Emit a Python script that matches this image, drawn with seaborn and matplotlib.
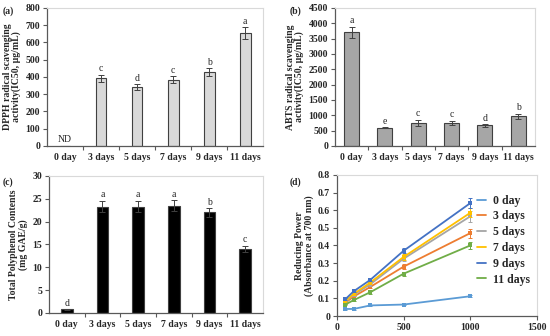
import numpy as np
import pandas as pd
import matplotlib
matplotlib.use("Agg")
import matplotlib.pyplot as plt
import seaborn as sns
from matplotlib.ticker import FixedLocator
from matplotlib.lines import Line2D

sns.set_style("white")
plt.rcParams['font.family'] = ['Liberation Serif', 'DejaVu Serif']
plt.rcParams['font.weight'] = 'bold'

days = ["0 day", "3 days", "5 days", "7 days", "9 days", "11 days"]

# (a) DPPH
dpph = [0, 393, 340, 383, 427, 655]
dpph_err = [0, 20, 17, 20, 22, 33]
dpph_let = ["", "c", "d", "c", "b", "a"]

# (b) ABTS
abts = [3700, 590, 760, 760, 670, 970]
abts_err = [180, 20, 100, 60, 40, 80]
abts_let = ["a", "e", "c", "c", "d", "b"]

# (c) total polyphenol
tpc = [0.8, 23.3, 23.3, 23.5, 22.0, 14.0]
tpc_err = [0.1, 1.3, 1.3, 1.2, 1.0, 0.7]
tpc_let = ["d", "a", "a", "a", "b", "c"]

# (d) reducing power
conc = [62.5, 125, 250, 500, 1000]
rp = {
    "0 day":   [0.040, 0.040, 0.060, 0.065, 0.112],
    "3 days":  [0.075, 0.110, 0.165, 0.280, 0.470],
    "5 days":  [0.080, 0.120, 0.180, 0.325, 0.565],
    "7 days":  [0.085, 0.125, 0.190, 0.335, 0.585],
    "9 days":  [0.095, 0.140, 0.205, 0.370, 0.640],
    "11 days": [0.065, 0.090, 0.135, 0.240, 0.400],
}
rp_err = {
    "0 day":   [0.004, 0.004, 0.005, 0.005, 0.006],
    "3 days":  [0.005, 0.006, 0.008, 0.015, 0.025],
    "5 days":  [0.005, 0.006, 0.008, 0.015, 0.030],
    "7 days":  [0.005, 0.006, 0.008, 0.015, 0.025],
    "9 days":  [0.005, 0.006, 0.008, 0.015, 0.030],
    "11 days": [0.005, 0.006, 0.008, 0.012, 0.020],
}
line_colors = ["#5B9BD5", "#ED7D31", "#A5A5A5", "#FFC000", "#4472C4", "#70AD47"]

fig = plt.figure(figsize=(5.5, 3.36), dpi=100)
ax_a = fig.add_axes([0.0855, 0.5655, 0.393, 0.411])
ax_b = fig.add_axes([0.609, 0.5655, 0.3636, 0.411])
ax_c = fig.add_axes([0.089, 0.0685, 0.389, 0.408])
ax_d = fig.add_axes([0.6127, 0.0595, 0.3636, 0.42])

fs = 7


def frame(ax):
    for s in ["top", "right"]:
        ax.spines[s].set_visible(True)
        ax.spines[s].set_color("#D9D9D9")
        ax.spines[s].set_linewidth(0.8)
    for s in ["left", "bottom"]:
        ax.spines[s].set_color("#595959")
        ax.spines[s].set_linewidth(0.9)
    ax.tick_params(axis="y", direction="out", length=3, width=0.8, color="#595959",
                   labelsize=fs, pad=2, left=True)
    ax.grid(False)


def bar_panel(ax, vals, errs, letters, color, width, ylim, step, ylabel, offset):
    df = pd.DataFrame({"day": days, "val": vals})
    sns.barplot(data=df, x="day", y="val", color=color, width=width,
                edgecolor="#404040", linewidth=0.8, ax=ax, saturation=1)
    x = np.arange(len(days))
    mask = np.array(errs) > 0
    ax.errorbar(x[mask], np.array(vals)[mask], yerr=np.array(errs)[mask], fmt="none",
                ecolor="#404040", elinewidth=0.7, capsize=2, capthick=0.7)
    for xi, v, e, l in zip(x, vals, errs, letters):
        if l:
            ax.text(xi, v + e + offset, l, ha="center", va="bottom", fontsize=fs,
                    fontweight="normal")
    ax.set_xlim(-0.5, len(days) - 0.5)
    ax.set_ylim(*ylim)
    ax.set_yticks(np.arange(ylim[0], ylim[1] + step / 2, step))
    ax.set_xlabel("")
    ax.set_ylabel(ylabel, fontsize=fs, fontweight="bold", labelpad=3, linespacing=1.0)
    frame(ax)
    ax.tick_params(axis="x", which="major", length=0, labelsize=fs, pad=5)
    ax.xaxis.set_minor_locator(FixedLocator(np.arange(0.5, len(days) - 1, 1.0)))
    ax.tick_params(axis="x", which="minor", direction="out", length=3, width=0.8,
                   color="#595959", bottom=True)
    for t in ax.get_xticklabels() + ax.get_yticklabels():
        t.set_fontweight("bold")


bar_panel(ax_a, dpph, dpph_err, dpph_let, "#D9D9D9", 0.3, (0, 800), 100,
          "DPPH radical scavenging\nactivity(IC50, μg/mL)", 8)
ax_a.text(0, 12, "ND", ha="center", va="bottom", fontsize=fs, fontweight="normal")
fig.text(3 / 550, 1 - 14 / 336, "(a)", fontsize=fs, fontweight="bold")

bar_panel(ax_b, abts, abts_err, abts_let, "#A6A6A6", 0.45, (0, 4500), 500,
          "ABTS radical scavenging\nactivity(IC50, μg/mL)", 50)
fig.text(290 / 550, 1 - 14 / 336, "(b)", fontsize=fs, fontweight="bold")

bar_panel(ax_c, tpc, tpc_err, tpc_let, "#000000", 0.33, (0, 30), 5,
          "Total Polyphenol Contents\n(mg GAE/g)", 0.3)
fig.text(3 / 550, 1 - 185 / 336, "(c)", fontsize=fs, fontweight="bold")

# (d) line chart
for name, col in zip(days, line_colors):
    df = pd.DataFrame({"conc": conc, "val": rp[name]})
    sns.lineplot(data=df, x="conc", y="val", color=col, linewidth=1.3, marker="s",
                 markersize=3, markeredgewidth=0, ax=ax_d, legend=False)
    ax_d.errorbar(conc, rp[name], yerr=rp_err[name], fmt="none", ecolor=col,
                  elinewidth=0.7, capsize=1.5, capthick=0.7)
ax_d.set_xlim(0, 1500)
ax_d.set_ylim(0, 0.8)
ax_d.set_xticks([0, 500, 1000, 1500])
ax_d.set_yticks(np.round(np.arange(0, 0.81, 0.1), 1))
ax_d.set_yticklabels(["0"] + [f"{v:.1f}" for v in np.arange(0.1, 0.81, 0.1)])
ax_d.set_xlabel("")
ax_d.set_ylabel("Reducing Power\n(Absorbance at 700 nm)", fontsize=fs,
                fontweight="bold", labelpad=3, linespacing=1.0)
frame(ax_d)
ax_d.tick_params(axis="x", direction="out", length=3, width=0.8, color="#595959",
                 labelsize=fs, pad=2, bottom=True)
for t in ax_d.get_xticklabels() + ax_d.get_yticklabels():
    t.set_fontweight("bold")
handles = [Line2D([], [], color=c, linewidth=1.3) for c in line_colors]
ax_d.legend(handles, days, loc="upper left", bbox_to_anchor=(0.70, 0.86),
            frameon=False, handlelength=0.8, handletextpad=0.6, labelspacing=0.32,
            borderaxespad=0, borderpad=0,
            prop={"family": "Liberation Serif", "weight": "bold", "size": 8.5})
fig.text(290 / 550, 1 - 185 / 336, "(d)", fontsize=fs, fontweight="bold")

fig.savefig("out.png", dpi=100)
